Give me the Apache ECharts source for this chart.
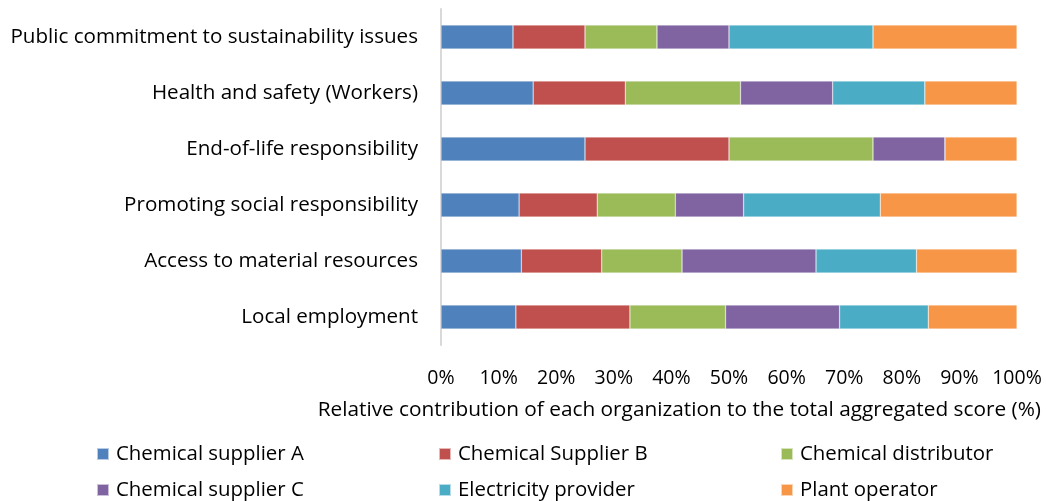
<!DOCTYPE html>
<html>
<head>
<meta charset="utf-8">
<script src="https://cdn.jsdelivr.net/npm/echarts@6/dist/echarts.min.js"></script>
<style>
  html, body { margin: 0; padding: 0; background: #fff; }
  #main { width: 1046px; height: 501px; }
</style>
</head>
<body>
<div id="main"></div>
<script>
// categories, top to bottom
const categories = [
    'Public commitment to sustainability issues',
    'Health and safety (Workers)',
    'End-of-life responsibility',
    'Promoting social responsibility',
    'Access to material resources',
    'Local employment'
];
const seriesNames = [
    'Chemical supplier A', 'Chemical Supplier B', 'Chemical distributor',
    'Chemical supplier C', 'Electricity provider', 'Plant operator'
];
// share of each organization (%), in category order
const supplierA    = [12.5, 16, 25, 13.56, 13.95, 13.0];
const supplierB    = [12.5, 16, 25, 13.56, 13.95, 19.8];
const distributor  = [12.5, 20, 25, 13.56, 13.95, 16.6];
const supplierC    = [12.5, 16, 12.5, 11.86, 23.26, 19.8];
const electricity  = [25, 16, 0, 23.73, 17.44, 15.4];
const plant        = [25, 16, 12.5, 23.73, 17.45, 15.4];
const tickLabels = ['0%', '10%', '20%', '30%', '40%', '50%', '60%', '70%', '80%', '90%', '100%'];

const colors = ['#4F81BD', '#C0504D', '#9BBB59', '#8064A2', '#4BACC6', '#F79646'];
const allData = [supplierA, supplierB, distributor, supplierC, electricity, plant];
const fontFam = '"Open Sans", "Noto Sans", sans-serif';

let myChart = echarts.init(document.getElementById('main'));

let series = [];
for (let i = 0; i < seriesNames.length; i++) {
    series.push({
        name: seriesNames[i],
        type: 'bar',
        stack: 'one',
        barWidth: 24,
        itemStyle: { color: colors[i], borderColor: 'rgba(255,255,255,0.6)', borderWidth: 0.5 },
        data: allData[i]
    });
}

let option = {
    backgroundColor: '#fff',
    color: colors,
    animation: false,
    grid: { left: 441, right: 29, top: 9, bottom: 156 },
    title: {
        text: 'Relative contribution of each organization to the total aggregated score (%)',
        right: 5,
        top: 400,
        padding: 0,
        textStyle: { fontFamily: fontFam, fontSize: 20.8, fontWeight: 'normal', color: '#000' }
    },
    legend: {
        data: seriesNames,
        left: 96,
        top: 441,
        padding: 0,
        width: 1040,
        itemWidth: 12,
        itemHeight: 12,
        itemGap: 10,
        icon: 'rect',
        textStyle: {
            fontFamily: fontFam, fontSize: 20.4, color: '#000',
            width: 312, lineHeight: 26, padding: [0, 0, 0, 2]
        }
    },
    xAxis: {
        type: 'value',
        min: 0,
        max: 100,
        interval: 10,
        axisLine: { show: false },
        axisTick: { show: false },
        splitLine: { show: false },
        axisLabel: {
            margin: 23,
            fontFamily: fontFam,
            fontSize: 19.5,
            color: '#000',
            formatter: function (v) { return tickLabels[Math.round(v / 10)]; }
        }
    },
    yAxis: {
        type: 'category',
        inverse: true,
        data: categories,
        axisLine: { show: true, lineStyle: { color: '#d9d9d9', width: 2 } },
        axisTick: { show: false },
        axisLabel: { margin: 23, fontFamily: fontFam, fontSize: 20.6, color: '#000' }
    },
    series: series
};

myChart.setOption(option);
</script>
</body>
</html>
